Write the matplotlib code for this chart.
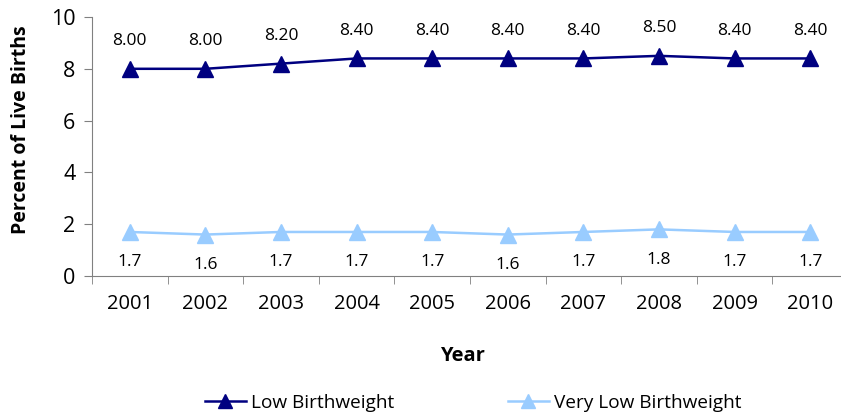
import matplotlib
matplotlib.use("Agg")
import matplotlib.pyplot as plt
from matplotlib.lines import Line2D

years = ["2001", "2002", "2003", "2004", "2005", "2006", "2007", "2008", "2009", "2010"]
low_bw = [8.00, 8.00, 8.20, 8.40, 8.40, 8.40, 8.40, 8.50, 8.40, 8.40]
very_low_bw = [1.7, 1.6, 1.7, 1.7, 1.7, 1.6, 1.7, 1.8, 1.7, 1.7]
series_names = ["Low Birthweight", "Very Low Birthweight"]

plt.rcParams['font.family'] = ['Open Sans', 'DejaVu Sans']
dark = "#000080"
light = "#99CCFF"

fig = plt.figure(figsize=(8.41, 4.15), dpi=100)
ax = fig.add_axes([92/841, 1-276/415, 756/841, 259/415])

x = list(range(len(years)))
ax.plot(x, low_bw, color=dark, marker='^', markersize=11, linewidth=1.8, clip_on=False)
ax.plot(x, very_low_bw, color=light, marker='^', markersize=11, linewidth=1.8, clip_on=False)

for xi, v in zip(x, low_bw):
    ax.annotate(f"{v:.2f}", (xi, v), xytext=(0, 14), textcoords='offset points',
                ha='center', va='bottom', fontsize=12.5, color='#000000')
for xi, v in zip(x, very_low_bw):
    ax.annotate(f"{v:.1f}", (xi, v), xytext=(0, -16), textcoords='offset points',
                ha='center', va='top', fontsize=12.5, color='#000000')

ax.set_xlim(-0.5, len(years) - 0.5)
ax.set_ylim(0, 10)
ax.set_yticks([0, 2, 4, 6, 8, 10])
ax.set_xticks(x)
ax.set_xticklabels(years, fontsize=14.5)
ax.set_xticks([i - 0.5 for i in range(len(years) + 1)], minor=True)
ax.tick_params(axis='x', which='major', length=0, pad=13)
ax.tick_params(axis='x', which='minor', length=6, direction='out', color='#808080')
ax.tick_params(axis='y', labelsize=15.5, length=6, direction='out', color='#808080', pad=6)
for s in ['top', 'right']:
    ax.spines[s].set_visible(False)
for s in ['left', 'bottom']:
    ax.spines[s].set_color('#808080')

fig.text(21/841, 1-130/415, "Percent of Live Births", fontsize=14, fontweight='bold',
         rotation=90, ha='center', va='center')
fig.text(462/841, 1-356/415, "Year", fontsize=14.5, fontweight='bold', ha='center', va='center')

handles = [Line2D([], [], color=dark, marker='^', markersize=10, linewidth=1.8),
           Line2D([], [], color=light, marker='^', markersize=10, linewidth=1.8)]
fig.legend(handles, series_names, loc='center', bbox_to_anchor=(473/841, 1-403/415),
           ncol=2, frameon=False, fontsize=13.7, handlelength=2.15, handletextpad=0.25,
           columnspacing=6.0)

fig.savefig("out.png", dpi=100)
